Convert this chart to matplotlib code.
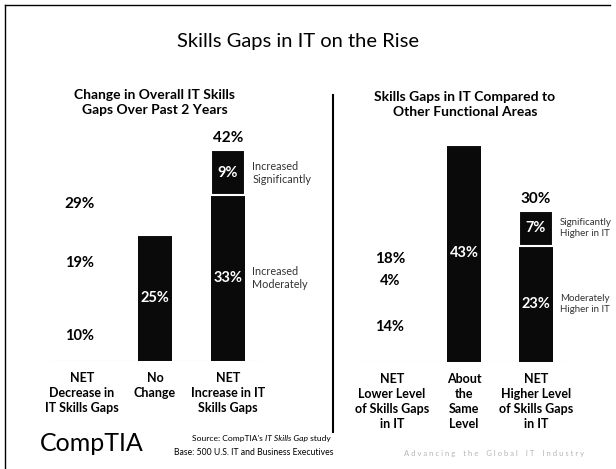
import matplotlib.pyplot as plt
from matplotlib.lines import Line2D

plt.rcParams['font.family'] = ['Lato', 'DejaVu Sans']

# left panel: change in IT skills gaps over past 2 years
left_cats = ['NET\nDecrease in\nIT Skills Gaps', 'No\nChange', 'NET\nIncrease in IT\nSkills Gaps']
left_lower = [10, 25, 33]
left_upper = [19, 0, 9]
left_totals = [29, None, 42]
left_colors = ['white', '#0a0a0a', '#0a0a0a']
left_notes = ['Increased\nModerately', 'Increased\nSignificantly']

# right panel: IT compared to other functional areas
right_cats = ['NET\nLower Level\nof Skills Gaps\nin IT', 'About\nthe\nSame\nLevel',
              'NET\nHigher Level\nof Skills Gaps\nin IT']
right_lower = [14, 43, 23]
right_upper = [4, 0, 7]
right_totals = [18, None, 30]
right_colors = ['white', '#0a0a0a', '#0a0a0a']
right_notes = ['Moderately\nHigher in IT', 'Significantly\nHigher in IT']

W, H = 616, 469
fig = plt.figure(figsize=(W / 100, H / 100), dpi=100)


def px_axes(left, bottom, width, height):
    return fig.add_axes([left / W, (H - bottom) / H, width / W, height / H])


def draw_panel(ax, cats, lower, upper, totals, colors, notes, note_size):
    x = range(len(cats))
    ax.bar(x, lower, width=0.47, color=colors, edgecolor='white', linewidth=0)
    ax.bar(x, upper, bottom=lower, width=0.47, color=colors, edgecolor='white', linewidth=1.5)
    ax.set_xlim(-0.5, 2.5)
    ax.set_ylim(0, 50)
    ax.axis('off')
    ax.axhline(0, xmin=0.02, xmax=0.98, color='#999999', lw=0.8, ls=(0, (1, 1.5)))

    for i in x:
        txt_color = 'black' if colors[i] == 'white' else 'white'
        dx = -0.03 if colors[i] == 'white' else 0
        if lower[i]:
            ax.text(i + dx, lower[i] / 2, f'{lower[i]}%', ha='center', va='center',
                    color=txt_color, fontsize=10.5, fontweight='bold')
        if upper[i]:
            ax.text(i + dx, lower[i] + upper[i] / 2, f'{upper[i]}%', ha='center', va='center',
                    color=txt_color, fontsize=10.5, fontweight='bold')
        if totals[i] is not None:
            ax.annotate(f'{totals[i]}%', (i + dx, totals[i]), xytext=(0, 8.5),
                        textcoords='offset points', ha='center', va='center',
                        fontsize=11, fontweight='bold')
        ax.annotate(cats[i], (i, 0), xytext=(0, -8), textcoords='offset points',
                    ha='center', va='top', fontsize=9, fontweight='bold', linespacing=1.3)

    # notes beside the stacked NET bar
    last = len(cats) - 1
    ax.annotate(notes[0], (last + 0.33, lower[last] / 2), ha='left', va='center',
                fontsize=note_size, color='#333333', linespacing=1.2)
    ax.annotate(notes[1], (last + 0.33, lower[last] + upper[last] / 2), ha='left', va='center',
                fontsize=note_size, color='#333333', linespacing=1.2)


ax_l = px_axes(45.5, 361, 219, 251)
draw_panel(ax_l, left_cats, left_lower, left_upper, left_totals, left_colors, left_notes, 7.8)

ax_r = px_axes(356, 362, 216, 252.5)
draw_panel(ax_r, right_cats, right_lower, right_upper, right_totals, right_colors, right_notes, 7.0)

# headings
fig.text(298 / W, 1 - 41 / H, 'Skills Gaps in IT on the Rise', ha='center', va='center', fontsize=14.5)
fig.text(155 / W, 1 - 102 / H, 'Change in Overall IT Skills\nGaps Over Past 2 Years',
         ha='center', va='center', fontsize=10, fontweight='bold', linespacing=1.3)
fig.text(465 / W, 1 - 104 / H, 'Skills Gaps in IT Compared to\nOther Functional Areas',
         ha='center', va='center', fontsize=10, fontweight='bold', linespacing=1.3)

# frame and divider
fig.add_artist(Line2D([5 / W, 5 / W], [0, 1 - 5 / H], color='black', lw=1))
fig.add_artist(Line2D([5 / W, 610 / W], [1 - 5 / H, 1 - 5 / H], color='black', lw=1))
fig.add_artist(Line2D([333 / W, 333 / W], [1 - 95 / H, 1 - 432 / H], color='black', lw=1.5))

# footer
fig.text(92 / W, 1 - 443 / H, 'CompTIA', ha='center', va='center', fontsize=18, color='black')
src = fig.text(192 / W, 1 - 438 / H, "Source: CompTIA's ", ha='left', va='center', fontsize=6.1)
t2 = plt.annotate('IT Skills Gap', xy=(1, 0), xycoords=src, ha='left', va='bottom',
                  fontsize=6.1, style='italic', annotation_clip=False)
plt.annotate(' study', xy=(1, 0), xycoords=t2, ha='left', va='bottom', fontsize=6.1,
             annotation_clip=False)
fig.text(334 / W, 1 - 452 / H, 'Base: 500 U.S. IT and Business Executives', ha='right',
         va='center', fontsize=6.2)
fig.text(494 / W, 1 - 453 / H, 'A d v a n c i n g    t h e    G l o b a l    I T    I n d u s t r y',
         ha='center', va='center', fontsize=5.5, color='#b5b5b5')

fig.savefig('out.png', dpi=100)
